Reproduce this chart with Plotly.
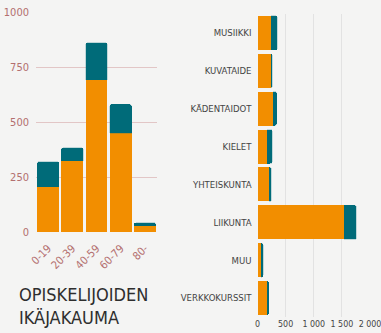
import plotly.graph_objects as go

# Age distribution of students (two-part stacked columns)
age_groups = ["0-19", "20-39", "40-59", "60-79", "80-"]
age_orange = [206, 323, 691, 449, 29]
age_teal = [114, 60, 169, 131, 13]

# Students by subject area (stacked horizontal bars)
subjects = ["MUSIIKKI", "KUVATAIDE", "KÄDENTAIDOT", "KIELET",
            "YHTEISKUNTA", "LIIKUNTA", "MUU", "VERKKOKURSSIT"]
subj_orange = [241, 245, 277, 170, 205, 1545, 63, 175]
subj_teal = [113, 20, 65, 89, 42, 214, 35, 25]

age_ticks = [0, 250, 500, 750, 1000]
subj_ticks = [0, 500, 1000, 1500, 2000]
subj_tick_text = ["0", "500", "1 000", "1 500", "2 000"]

ORANGE = "#f28e00"
TEAL = "#006b79"
BG = "#f4f4f3"
FONT = "Liberation Sans Narrow, DejaVu Sans Condensed, sans-serif"
TICK_RED = "#b36f6f"

W, H = 381, 333

fig = go.Figure()

fig.add_trace(go.Bar(x=age_groups, y=age_orange, marker_color=ORANGE,
                     marker_line=dict(width=0), xaxis="x", yaxis="y"))
fig.add_trace(go.Bar(x=age_groups, y=age_teal, marker_color=TEAL,
                     marker_line=dict(width=0.6, color="rgba(0,107,121,0.35)"),
                     xaxis="x", yaxis="y"))

fig.add_trace(go.Bar(y=subjects, x=subj_orange, orientation="h", marker_color=ORANGE,
                     marker_line=dict(width=0), xaxis="x2", yaxis="y2"))
fig.add_trace(go.Bar(y=subjects, x=subj_teal, orientation="h", marker_color=TEAL,
                     marker_line=dict(width=0.6, color="rgba(0,107,121,0.35)"),
                     xaxis="x2", yaxis="y2"))

fig.update_layout(
    width=W, height=H,
    margin=dict(l=0, r=0, t=0, b=0),
    paper_bgcolor=BG, plot_bgcolor=BG,
    barmode="stack", bargap=0.1, barcornerradius=2,
    showlegend=False,
    font=dict(family=FONT, size=10, color="#444"),
    xaxis=dict(domain=[36 / W, 157 / W], anchor="y", tickangle=-45, automargin=False,
               tickfont=dict(color=TICK_RED, size=11), showgrid=False,
               showline=False, zeroline=False, ticks="", ticklabelstandoff=7),
    yaxis=dict(domain=[1 - 232 / H, 1 - 12 / H], range=[0, 1000], anchor="x",
               automargin=False,
               tickvals=age_ticks, tickfont=dict(color=TICK_RED, size=11),
               gridcolor="#e2c6c6", gridwidth=1, zeroline=False, showline=False,
               ticklabelstandoff=6),
    xaxis2=dict(domain=[257.5 / W, 370 / W], range=[0, 2000], anchor="y2",
                automargin=False, ticklabeloverflow="allow",
                tickvals=subj_ticks, ticktext=subj_tick_text, tickangle=0,
                tickfont=dict(color="#444", size=8.8),
                gridcolor="#e2e2e2", gridwidth=1, zeroline=False, showline=False),
    yaxis2=dict(domain=[1 - 317 / H, 1 - 14 / H], anchor="x2", automargin=False,
                autorange="reversed", showgrid=False, zeroline=False,
                tickfont=dict(color="#444", size=9.5), ticklabelstandoff=5),
)

fig.add_annotation(
    text="OPISKELIJOIDEN<br>IKÄJAKAUMA",
    xref="paper", yref="paper", x=17 / W, y=1 - 282 / H,
    xanchor="left", yanchor="top", align="left", showarrow=False,
    font=dict(family=FONT, size=18, color="#2e2e2e"),
)

fig.write_html("out.html")
